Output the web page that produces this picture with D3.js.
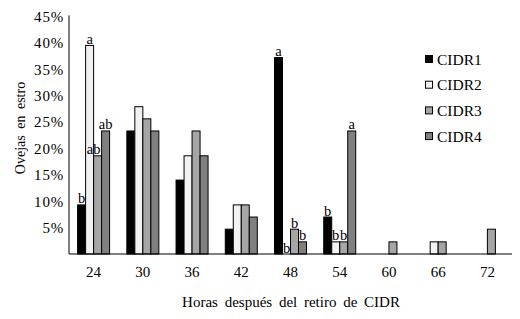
<!DOCTYPE html>
<html><head><meta charset="utf-8">
<script src="https://cdnjs.cloudflare.com/ajax/libs/d3/7.8.5/d3.min.js"></script>
<style>body{margin:0;background:#fff}svg{display:block}</style>
</head><body><svg id="c" width="520" height="319"></svg>
<script>
const categories = ["24","30","36","42","48","54","60","66","72"];
const seriesNames = ["CIDR1","CIDR2","CIDR3","CIDR4"];
const cidr1 = [9.3, 23.3, 14.0, 4.7, 37.2, 7.0, 0, 0, 0];
const cidr2 = [39.5, 27.9, 18.6, 9.3, 0, 2.3, 0, 2.3, 0];
const cidr3 = [18.6, 25.6, 23.3, 9.3, 4.7, 2.3, 2.3, 2.3, 4.7];
const cidr4 = [23.3, 23.3, 18.6, 7.0, 2.3, 23.3, 0, 0, 0];
const letters1 = ["b","","","","a","b","","",""];
const letters2 = ["a","","","","b","b","","",""];
const letters3 = ["ab","","","","b","b","","",""];
const letters4 = ["ab","","","","b","a","","",""];
const yTicks = [5,10,15,20,25,30,35,40,45];
const colors = ["#000000","#f2f2f2","#a6a6a6","#808080"];

const series = [cidr1,cidr2,cidr3,cidr4];
const letters = [letters1,letters2,letters3,letters4];
const svg = d3.select("#c");
const m = {l:69, r:512, t:16.4, b:254};
const x = d3.scaleBand().domain(categories).range([m.l, m.r]);
const xs = d3.scaleBand().domain(seriesNames).range([0, 32]);
const y = d3.scaleLinear().domain([0,45]).range([m.b, m.t]);
const font = "Liberation Serif";

// bars
series.forEach((vals, si) => {
  const off = (x.bandwidth()-32)/2 + xs(seriesNames[si]);
  svg.append("g").selectAll("rect").data(vals.map((v,i)=>({v,i}))).join("rect")
    .filter(d=>d.v>0)
    .attr("x", d=>x(categories[d.i])+off)
    .attr("y", d=>y(d.v))
    .attr("width", xs.bandwidth())
    .attr("height", d=>y(0)-y(d.v))
    .attr("fill", colors[si])
    .attr("stroke","#000").attr("stroke-width",1);
  svg.append("g").selectAll("text").data(vals.map((v,i)=>({v,i,l:letters[si][i]}))).join("text")
    .filter(d=>d.l)
    .attr("x", d=>x(categories[d.i])+off+xs.bandwidth()/2 + (si===2 && d.i===0 ? -4 : 0))
    .attr("y", d=>y(d.v)-1.5)
    .attr("text-anchor","middle")
    .attr("font-family",font).attr("font-size",14.5)
    .text(d=>d.l);
});

// axes
const yAxis = d3.axisLeft(y).tickValues(yTicks).tickSize(0).tickPadding(5)
  .tickFormat(d=>d+"%");
const gy = svg.append("g").attr("transform",`translate(${m.l},0)`).call(yAxis);
gy.select(".domain").attr("stroke","#000").attr("d",`M0,${m.t-1}V${m.b}`);
gy.selectAll("text").attr("font-family",font).attr("font-size",15).attr("fill","#000").attr("letter-spacing","0.8px");

const xAxis = d3.axisBottom(x).tickSize(0).tickPadding(12);
const gx = svg.append("g").attr("transform",`translate(0,${m.b})`).call(xAxis);
gx.select(".domain").attr("stroke","#000").attr("d",`M${m.l},0H${m.r}`);
gx.selectAll("text").attr("font-family",font).attr("font-size",15).attr("fill","#000");

// titles
svg.append("text").attr("x",291).attr("y",307).attr("text-anchor","middle")
  .attr("font-family",font).attr("font-size",15).attr("word-spacing","3px")
  .text("Horas después del retiro de CIDR");
svg.append("text").attr("transform","translate(25,128) rotate(-90)").attr("text-anchor","middle")
  .attr("font-family",font).attr("font-size",14).attr("word-spacing","3px")
  .text("Ovejas en estro");

// legend
const lg = svg.append("g").attr("transform","translate(425,55)");
seriesNames.forEach((n,i)=>{
  const g = lg.append("g").attr("transform",`translate(0,${i*25.7})`);
  g.append("rect").attr("x",0.5).attr("y",0.5).attr("width",7).attr("height",7)
    .attr("fill",colors[i]).attr("stroke","#000");
  g.append("text").attr("x",12).attr("y",9.5).attr("font-family",font).attr("font-size",15.5).text(n);
});
</script></body></html>
